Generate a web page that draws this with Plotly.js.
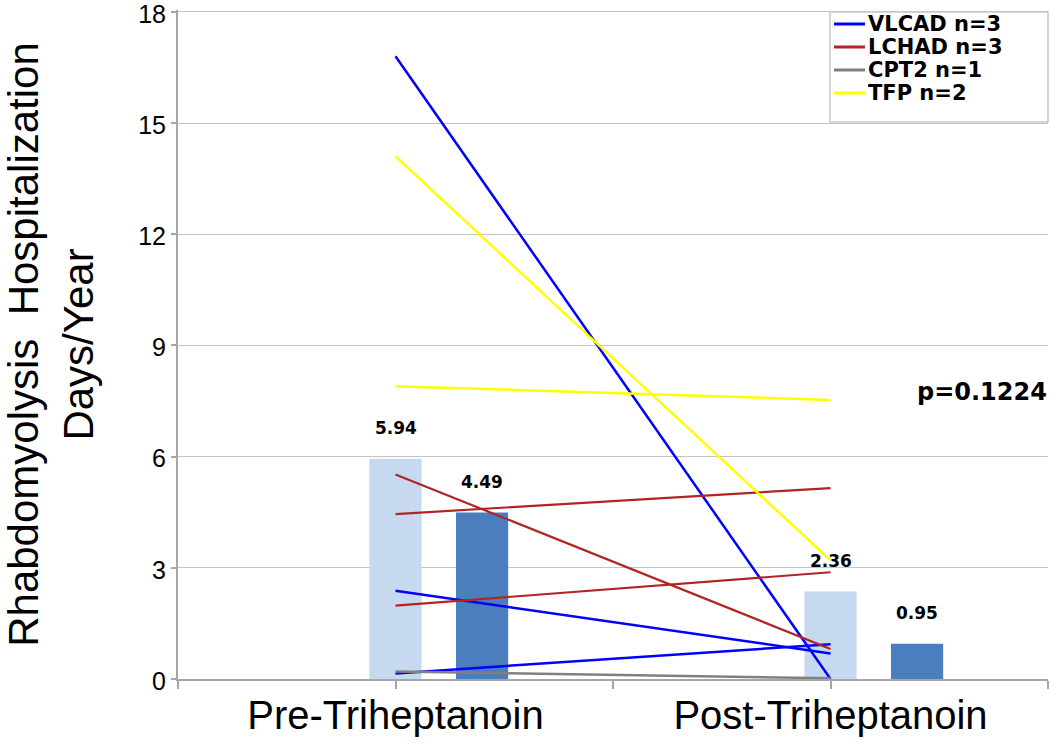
<!DOCTYPE html>
<html>
<head>
<meta charset="utf-8">
<script src="https://cdn.plot.ly/plotly-3.0.1.min.js"></script>
<style>html,body{margin:0;padding:0;background:#fff;}#chart{width:1050px;height:744px;}</style>
</head>
<body>
<div id="chart"></div>
<script>
// ---- data ----
const categories = ["Pre-Triheptanoin", "Post-Triheptanoin"];
const meanAll = [5.94, 2.36];      // light bars
const meanSub = [4.49, 0.95];      // dark bars

const vlcadPre  = [16.8, 2.38, 0.15];
const vlcadPost = [0.0, 0.69, 0.94];
const lchadPre  = [5.52, 4.45, 1.98];
const lchadPost = [0.81, 5.15, 2.88];
const cpt2Pre   = [0.2];
const cpt2Post  = [0.02];
const tfpPre    = [14.1, 7.9];
const tfpPost   = [3.2, 7.53];

const groupNames = ["VLCAD n=3", "LCHAD n=3", "CPT2 n=1", "TFP n=2"];
const groupColors = ["#0000FF", "#B22424", "#808080", "#FFFF00"];
const pValueText = "p=0.1224";
const yTitle = "Rhabdomyolysis\u00a0 Hospitalization<br>Days/Year";

// ---- geometry helpers (layout only) ----
const W = 1050, H = 744, ML = 178, MR = 2, MT = 10, MB = 65;
const pw = W - ML - MR, ph = H - MT - MB;
const px2x = p => (p - ML) / pw;
const px2y = p => (H - MB - p) / ph;

// ---- build ----
const xIdx = categories.map((c, i) => i);
const traces = [];

traces.push({
  type: "bar", x: xIdx, y: meanAll, width: 0.12, offset: -0.06,
  marker: {color: "#C6D9F0", line: {width: 0}}, showlegend: false, hoverinfo: "y"
});
traces.push({
  type: "bar", x: xIdx, y: meanSub, width: 0.12, offset: 0.139,
  marker: {color: "#4A7EBE", line: {width: 0}}, showlegend: false, hoverinfo: "y"
});

const groups = [
  {pre: vlcadPre, post: vlcadPost, w: 2.5},
  {pre: lchadPre, post: lchadPost, w: 2.2},
  {pre: cpt2Pre,  post: cpt2Post,  w: 2.5},
  {pre: tfpPre,   post: tfpPost,   w: 2.5}
];
groups.forEach((g, gi) => {
  g.pre.forEach((v, k) => {
    traces.push({
      type: "scatter", mode: "lines",
      x: xIdx, y: [v, g.post[k]],
      name: groupNames[gi], legendgroup: groupNames[gi], showlegend: false,
      line: {color: groupColors[gi], width: g.w}, hoverinfo: "y"
    });
  });
});

const annotations = [];
const lblFont = {family: "DejaVu Sans", size: 17, color: "#000", weight: "bold"};
xIdx.forEach(i => {
  annotations.push({x: i, y: meanAll[i], text: meanAll[i].toFixed(2), showarrow: false,
    xanchor: "center", yanchor: "middle", yshift: 31, font: lblFont});
  annotations.push({x: i + 0.199, y: meanSub[i], text: meanSub[i].toFixed(2), showarrow: false,
    xanchor: "center", yanchor: "middle", yshift: 31, font: lblFont});
});
annotations.push({xref: "paper", yref: "paper", x: px2x(982), y: px2y(392), text: "<b>" + pValueText + "</b>",
  xanchor: "center", yanchor: "middle",
  showarrow: false, font: {family: "DejaVu Sans", size: 24, color: "#000"}});

// custom legend (box + samples + labels)
const shapes = [];
shapes.push({type: "rect", xref: "paper", yref: "paper",
  x0: px2x(830), x1: px2x(1048), y0: px2y(122), y1: px2y(12),
  fillcolor: "#FFFFFF", line: {color: "#C8C8C8", width: 1.5}, layer: "above"});
const rowY = [24, 47, 70, 93];
groupNames.forEach((n, gi) => {
  shapes.push({type: "line", xref: "paper", yref: "paper",
    x0: px2x(834), x1: px2x(865), y0: px2y(rowY[gi]), y1: px2y(rowY[gi]),
    line: {color: groupColors[gi], width: 3}, layer: "above"});
  annotations.push({xref: "paper", yref: "paper", x: px2x(867), y: px2y(rowY[gi]),
    xanchor: "left", yanchor: "middle", valign: "middle", height: 22, borderpad: 0,
    text: "<b>" + n + "</b>", showarrow: false,
    font: {family: "DejaVu Sans", size: 21, color: "#000"}});
});

const layout = {
  width: W, height: H,
  margin: {l: ML, r: MR, t: MT, b: MB},
  paper_bgcolor: "#fff", plot_bgcolor: "#fff",
  barmode: "overlay",
  showlegend: false,
  xaxis: {
    range: [-0.5, 1.5], tickmode: "array",
    tickvals: [-0.5, 0, 0.5, 1, 1.5],
    ticktext: ["", categories[0], "", categories[1], ""],
    ticks: "outside", ticklen: 8, tickwidth: 2, tickcolor: "#A6A6A6",
    showline: true, linecolor: "#A6A6A6", linewidth: 2,
    showgrid: false, zeroline: false,
    tickfont: {family: "Liberation Sans", size: 40, color: "#000"},
    ticklabelstandoff: -8, ticklabeloverflow: "allow"
  },
  yaxis: {
    range: [0, 18.05], tickmode: "array", tickvals: [0, 3, 6, 9, 12, 15, 18],
    ticks: "outside", ticklen: 5, tickwidth: 2, tickcolor: "#A6A6A6",
    showline: true, linecolor: "#A6A6A6", linewidth: 2,
    showgrid: true, gridcolor: "#C4C4C4", gridwidth: 1, zeroline: false,
    tickfont: {family: "Liberation Sans", size: 25, color: "#000"},
    ticklabeloverflow: "allow", ticklabelshift: 2,
    title: {text: yTitle, font: {family: "Liberation Sans", size: 42, color: "#000"}, standoff: 32},
    automargin: false
  },
  shapes: shapes,
  annotations: annotations
};

Plotly.newPlot("chart", traces, layout, {displayModeBar: false, staticPlot: true});
</script>
</body>
</html>
